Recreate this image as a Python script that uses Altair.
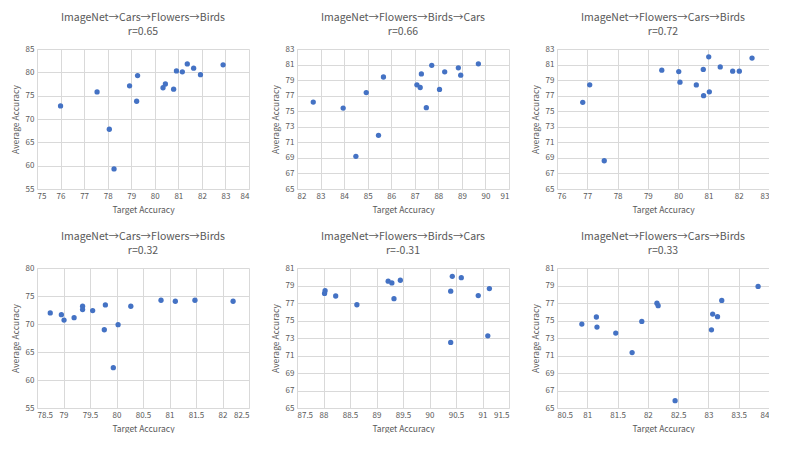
import altair as alt
import pandas as pd

# Panel data: (target accuracy, average accuracy)
p1_x = [76.0, 77.55, 78.07, 78.27, 78.93, 79.23, 79.27, 80.35, 80.45, 80.8, 80.92, 81.17, 81.38, 81.65, 81.94, 82.9]
p1_y = [72.8, 75.8, 67.8, 59.3, 77.1, 73.8, 79.3, 76.7, 77.5, 76.4, 80.3, 80.1, 81.8, 80.9, 79.5, 81.6]

p2_x = [82.69, 83.96, 84.5, 84.94, 85.46, 85.67, 87.09, 87.23, 87.28, 87.49, 87.72, 88.05, 88.27, 88.85, 88.95, 89.7]
p2_y = [76.18, 75.4, 69.2, 77.4, 71.9, 79.4, 78.4, 78.05, 79.8, 75.45, 80.9, 77.8, 80.07, 80.58, 79.63, 81.1]

p3_x = [76.85, 77.08, 77.56, 79.46, 80.02, 80.06, 80.6, 80.83, 80.84, 81.01, 81.03, 81.39, 81.8, 82.02, 82.44]
p3_y = [76.14, 78.4, 68.63, 80.28, 80.1, 78.73, 78.38, 80.37, 77.0, 82.0, 77.5, 80.7, 80.15, 80.15, 81.83]

p4_x = [78.75, 78.96, 79.01, 79.2, 79.36, 79.36, 79.55, 79.77, 79.79, 79.94, 80.03, 80.27, 80.84, 81.11, 81.48, 82.2]
p4_y = [71.97, 71.67, 70.7, 71.13, 73.17, 72.57, 72.39, 68.97, 73.4, 62.2, 69.87, 73.17, 74.24, 74.06, 74.24, 74.06]

p5_x = [88.02, 88.03, 88.23, 88.63, 89.22, 89.29, 89.33, 89.45, 90.4, 90.4, 90.43, 90.6, 90.92, 91.1, 91.13]
p5_y = [78.1, 78.4, 77.8, 76.8, 79.5, 79.3, 77.5, 79.6, 78.35, 72.5, 80.05, 79.9, 77.85, 73.25, 78.65]

p6_x = [80.91, 81.15, 81.16, 81.47, 81.74, 81.9, 82.15, 82.17, 82.45, 83.05, 83.07, 83.15, 83.22, 83.82]
p6_y = [74.59, 75.4, 74.25, 73.56, 71.33, 74.9, 76.97, 76.7, 65.84, 73.94, 75.74, 75.44, 77.3, 78.89]

titles = [
    ["ImageNet→Cars→Flowers→Birds", "r=0.65"],
    ["ImageNet→Flowers→Birds→Cars", "r=0.66"],
    ["ImageNet→Flowers→Cars→Birds", "r=0.72"],
    ["ImageNet→Cars→Flowers→Birds", "r=0.32"],
    ["ImageNet→Flowers→Birds→Cars", "r=-0.31"],
    ["ImageNet→Flowers→Cars→Birds", "r=0.33"],
]

x_ticks = [
    [75, 76, 77, 78, 79, 80, 81, 82, 83, 84],
    [82, 83, 84, 85, 86, 87, 88, 89, 90, 91],
    [76, 77, 78, 79, 80, 81, 82, 83],
    [78.5, 79, 79.5, 80, 80.5, 81, 81.5, 82, 82.5],
    [87.5, 88, 88.5, 89, 89.5, 90, 90.5, 91, 91.5],
    [80.5, 81, 81.5, 82, 82.5, 83, 83.5, 84],
]
y_ticks = [
    [55, 60, 65, 70, 75, 80, 85],
    [65, 67, 69, 71, 73, 75, 77, 79, 81, 83],
    [65, 67, 69, 71, 73, 75, 77, 79, 81, 83],
    [55, 60, 65, 70, 75, 80],
    [65, 67, 69, 71, 73, 75, 77, 79, 81],
    [65, 67, 69, 71, 73, 75, 77, 79, 81],
]

data = [(p1_x, p1_y), (p2_x, p2_y), (p3_x, p3_y), (p4_x, p4_y), (p5_x, p5_y), (p6_x, p6_y)]

FONT = "Noto Sans CJK SC"
TXT = "#595959"
GRID = "#D9D9D9"


def panel(i):
    xs, ys = data[i]
    df = pd.DataFrame({"t": xs, "a": ys})
    xt, yt = x_ticks[i], y_ticks[i]
    return alt.Chart(df).mark_circle(size=28, color="#4472C4", opacity=1).encode(
        x=alt.X("t:Q", title="Target Accuracy",
                scale=alt.Scale(domain=[xt[0], xt[-1]], nice=False, zero=False),
                axis=alt.Axis(values=xt, grid=True, format=".1~f")),
        y=alt.Y("a:Q", title="Average Accuracy",
                scale=alt.Scale(domain=[yt[0], yt[-1]], nice=False, zero=False),
                axis=alt.Axis(values=yt, grid=True, format=".1~f")),
    ).properties(
        width=212, height=140,
        title=alt.TitleParams(text=titles[i], fontSize=10.5, font=FONT, color=TXT,
                              fontWeight="normal", lineHeight=13.5, offset=8),
    )


row1 = alt.hconcat(panel(0), panel(1), panel(2), spacing=22)
row2 = alt.hconcat(panel(3), panel(4), panel(5), spacing=22)
chart = (
    alt.vconcat(row1, row2, spacing=18)
    .configure_view(stroke=None)
    .configure_axis(
        gridColor=GRID, domainColor=GRID, ticks=False, labelFont=FONT, titleFont=FONT,
        labelColor=TXT, titleColor=TXT, labelFontSize=8, titleFontSize=8.5,
        titleFontWeight="normal", labelPadding=3,
    )
    .configure_axisX(titlePadding=5)
    .configure_axisY(titlePadding=5)
    .properties(padding={"left": 3, "top": 5, "right": 0, "bottom": 0})
)

chart.save("out.html", embed_options={"renderer": "svg", "actions": False})
